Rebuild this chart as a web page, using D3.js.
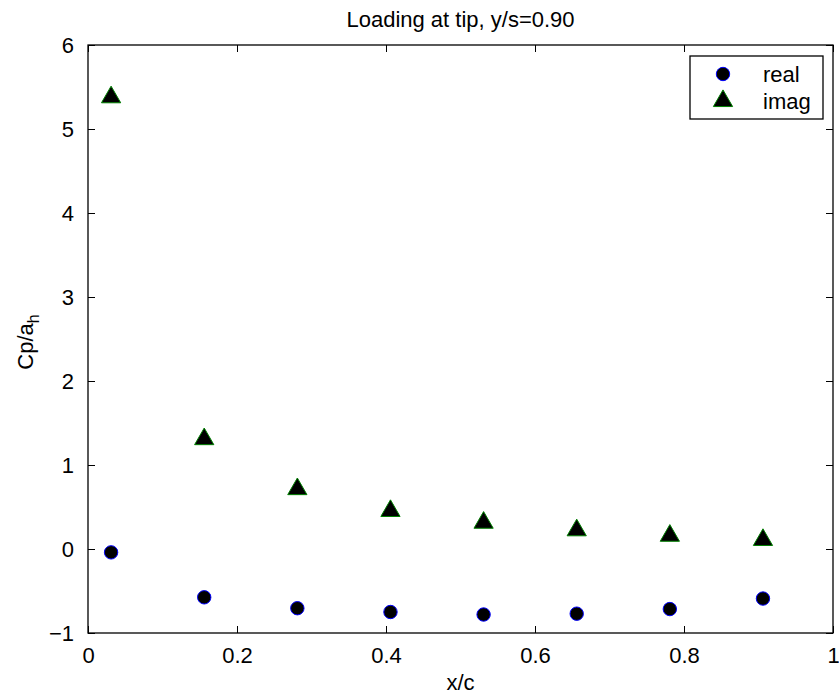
<!DOCTYPE html>
<html lang="en">
<head>
    <meta charset="UTF-8">
    <title>Loading at tip</title>
    <script src="https://cdn.jsdelivr.net/npm/d3@7"></script>
    <style>
        body { margin: 0; background: #fff; }
        svg text { font-family: "Liberation Sans", Arial, sans-serif; font-size: 22px; fill: #000; }
        .axis path, .axis line { stroke: #000; }
    </style>
</head>
<body>
<svg id="main" width="839" height="694"></svg>
<script>

    // chordwise stations and pressure loading at the tip section
    var xc = [0.031, 0.156, 0.281, 0.406, 0.531, 0.656, 0.781, 0.906];
    var real = [-0.04, -0.575, -0.705, -0.75, -0.78, -0.77, -0.715, -0.59];
    var imag = [5.39, 1.32, 0.725, 0.465, 0.325, 0.235, 0.17, 0.12];
    var xTicks = [0, 0.2, 0.4, 0.6, 0.8, 1];
    var yTicks = [-1, 0, 1, 2, 3, 4, 5, 6];

    var svg = d3.select("#main");
    var pLeft = 88, pRight = 833, pTop = 45, pBottom = 633;

    var x = d3.scaleLinear().domain([0, 1]).range([pLeft, pRight]);
    var y = d3.scaleLinear().domain([-1, 6]).range([pBottom, pTop]);

    var tickLen = 7;
    var fmt = d3.format("");

    // bottom + top axes (ticks pointing inward)
    svg.append("g")
        .attr("class", "axis")
        .attr("transform", "translate(0," + pBottom + ")")
        .call(d3.axisBottom(x).tickValues(xTicks).tickSize(-tickLen).tickPadding(14).tickFormat(fmt))
        .call(function(g) { g.select(".domain").remove(); });

    svg.append("g")
        .attr("class", "axis")
        .attr("transform", "translate(0," + pTop + ")")
        .call(d3.axisTop(x).tickValues(xTicks).tickSize(-tickLen).tickFormat(""))
        .call(function(g) { g.select(".domain").remove(); });

    svg.append("g")
        .attr("class", "axis")
        .attr("transform", "translate(" + pLeft + ",0)")
        .call(d3.axisLeft(y).tickValues(yTicks).tickSize(-tickLen).tickPadding(14).tickFormat(fmt))
        .call(function(g) { g.select(".domain").remove(); });

    svg.append("g")
        .attr("class", "axis")
        .attr("transform", "translate(" + pRight + ",0)")
        .call(d3.axisRight(y).tickValues(yTicks).tickSize(-tickLen).tickFormat(""))
        .call(function(g) { g.select(".domain").remove(); });

    svg.selectAll(".axis text").style("font-size", "22px").attr("fill", "#000")
        .style("font-family", "'Liberation Sans', Arial, sans-serif");
    svg.selectAll(".axis line").attr("stroke-width", 1);

    // box
    svg.append("rect")
        .attr("x", pLeft).attr("y", pTop)
        .attr("width", pRight - pLeft).attr("height", pBottom - pTop)
        .attr("fill", "none").attr("stroke", "#000").attr("stroke-width", 1.3);

    // series
    var tri = d3.symbol().type(d3.symbolTriangle).size(160);

    svg.append("g").selectAll("circle")
        .data(xc)
        .enter().append("circle")
        .attr("cx", function(d) { return x(d); })
        .attr("cy", function(d, i) { return y(real[i]); })
        .attr("r", 6.7)
        .attr("fill", "#000")
        .attr("stroke", "#0000ff")
        .attr("stroke-width", 1);

    svg.append("g").selectAll("path")
        .data(xc)
        .enter().append("path")
        .attr("d", tri)
        .attr("transform", function(d, i) { return "translate(" + x(d) + "," + (y(imag[i]) + 1) + ")"; })
        .attr("fill", "#000")
        .attr("stroke", "#008000")
        .attr("stroke-width", 1);

    // title + labels
    svg.append("text")
        .attr("x", (pLeft + pRight) / 2).attr("y", 27)
        .attr("text-anchor", "middle")
        .text("Loading at tip, y/s=0.90");

    svg.append("text")
        .attr("x", (pLeft + pRight) / 2).attr("y", 690)
        .attr("text-anchor", "middle")
        .text("x/c");

    var ylab = svg.append("text")
        .attr("transform", "translate(33,342) rotate(-90)")
        .attr("text-anchor", "middle");
    ylab.append("tspan").text("Cp/a");
    ylab.append("tspan").attr("dy", 6).style("font-size", "16px").text("h");

    // legend
    var lg = svg.append("g");
    lg.append("rect")
        .attr("x", 690).attr("y", 56).attr("width", 133).attr("height", 63)
        .attr("fill", "#fff").attr("stroke", "#000").attr("stroke-width", 1.3);
    lg.append("circle")
        .attr("cx", 723).attr("cy", 74).attr("r", 6.7)
        .attr("fill", "#000").attr("stroke", "#0000ff");
    lg.append("path")
        .attr("d", tri)
        .attr("transform", "translate(723,101)")
        .attr("fill", "#000").attr("stroke", "#008000");
    lg.append("text").attr("x", 763).attr("y", 82).text("real");
    lg.append("text").attr("x", 763).attr("y", 109).text("imag");

</script>
</body>
</html>
